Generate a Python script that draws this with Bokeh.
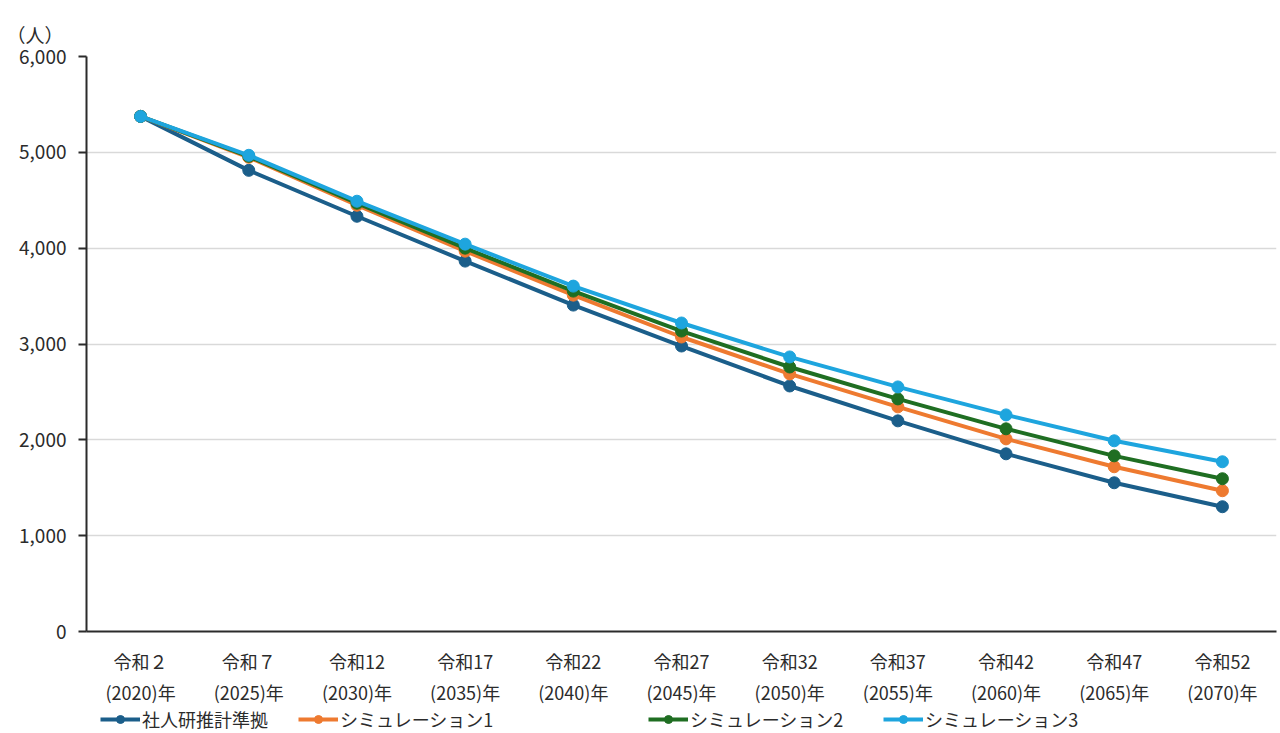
from bokeh.plotting import figure
from bokeh.layouts import column
from bokeh.models import Legend, LegendItem, FixedTicker, NumeralTickFormatter, Range1d
from bokeh.embed import file_html
from bokeh.resources import INLINE

categories = ["令和２\n(2020)年", "令和７\n(2025)年", "令和12\n(2030)年", "令和17\n(2035)年",
              "令和22\n(2040)年", "令和27\n(2045)年", "令和32\n(2050)年", "令和37\n(2055)年",
              "令和42\n(2060)年", "令和47\n(2065)年", "令和52\n(2070)年"]
base = [5375, 4812, 4333, 3865, 3406, 2979, 2562, 2198, 1854, 1552, 1302]
sim1 = [5375, 4948, 4448, 3969, 3510, 3073, 2688, 2344, 2010, 1719, 1469]
sim2 = [5375, 4958, 4469, 4000, 3552, 3135, 2760, 2427, 2115, 1833, 1594]
sim3 = [5375, 4969, 4490, 4042, 3604, 3219, 2865, 2552, 2260, 1990, 1771]
names = ["社人研推計準拠", "シミュレーション1", "シミュレーション2", "シミュレーション3"]
colors = ["#1b5e8a", "#ee7a30", "#1f6e22", "#1ea5de"]
yticks = [0, 1000, 2000, 3000, 4000, 5000, 6000]

FONT = "Noto Sans CJK JP"
TXT = "#2b2b2b"

p = figure(x_range=categories, y_range=Range1d(0, 6000), width=1280, height=707,
           output_backend="svg", toolbar_location=None,
           min_border_left=86, min_border_right=4, min_border_top=56, min_border_bottom=75)
p.outline_line_color = None
p.background_fill_color = "white"
p.border_fill_color = "white"

p.title.text = "（人）"
p.title.align = "left"
p.title.offset = -80
p.title.vertical_align = "top"
p.title.text_font = FONT
p.title.text_font_size = "19px"
p.title.text_font_style = "normal"
p.title.text_color = TXT
p.title.standoff = 14

p.xgrid.grid_line_color = None
p.ygrid.grid_line_color = "#d9d9d9"
p.ygrid.grid_line_width = 1.5

p.yaxis.ticker = FixedTicker(ticks=yticks)
p.yaxis.formatter = NumeralTickFormatter(format="0,0")
p.yaxis.axis_line_color = TXT
p.yaxis.axis_line_width = 2
p.yaxis.major_tick_line_color = TXT
p.yaxis.major_tick_line_width = 2
p.yaxis.major_tick_out = 8
p.yaxis.major_tick_in = 0
p.yaxis.minor_tick_line_color = None
p.yaxis.major_label_text_font = FONT
p.yaxis.major_label_text_font_size = "19px"
p.yaxis.major_label_text_color = TXT
p.yaxis.major_label_standoff = 12

p.xaxis.axis_line_color = TXT
p.xaxis.axis_line_width = 2
p.xaxis.major_tick_line_color = None
p.xaxis.minor_tick_line_color = None
p.xaxis.major_label_text_font = FONT
p.xaxis.major_label_text_font_size = "18px"
p.xaxis.major_label_text_color = TXT
p.xaxis.major_label_standoff = 10

for vals, c in zip([base, sim1, sim2, sim3], colors):
    p.line(categories, vals, line_color=c, line_width=4)
    p.scatter(categories, vals, size=12, fill_color=c, line_color=c)

# legend strip below the chart (its frame is aligned with the chart frame, x=86)
q = figure(width=1280, height=26, output_backend="svg", toolbar_location=None,
           x_range=Range1d(0, 1), y_range=Range1d(0, 1),
           x_axis_location=None, y_axis_location=None,
           min_border_left=86, min_border_right=4, min_border_top=0, min_border_bottom=0)
q.outline_line_color = None
q.grid.visible = False
q.border_fill_color = "white"
legend_x = [14, 212, 562, 797]
for name, c, lx in zip(names, colors, legend_x):
    l = q.line(x=[-5, -4], y=[-5, -4], line_color=c, line_width=4)
    s = q.scatter(x=[-5], y=[-5], size=10, fill_color=c, line_color=c)
    lg = Legend(items=[LegendItem(label=name, renderers=[l, s])], location=(lx, 1),
                glyph_width=40, glyph_height=20, label_standoff=2,
                label_text_font=FONT, label_text_font_size="18px", label_text_color=TXT,
                border_line_color=None, background_fill_alpha=0, padding=0, margin=0)
    q.add_layout(lg, "center")

open("out.html", "w").write(file_html(column(p, q, spacing=0), INLINE))
